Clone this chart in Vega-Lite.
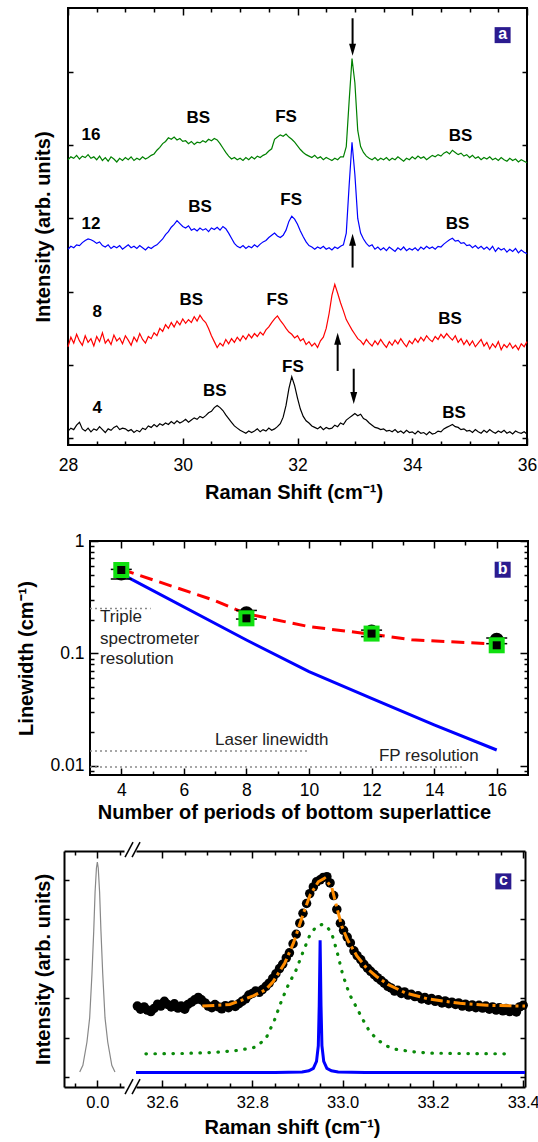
{
"$schema": "https://vega.github.io/schema/vega-lite/v6.json",
"padding": {"left": 0, "top": 6, "right": 0, "bottom": 0},
"autosize": {"type": "pad"},
"background": "white",
"datasets": {
"spectra": [
{"x":28.00,"p4":0.10,"p8":1.25,"p12":2.58,"p16":3.80},
{"x":28.05,"p4":0.14,"p8":1.38,"p12":2.62,"p16":3.84},
{"x":28.10,"p4":0.12,"p8":1.30,"p12":2.60,"p16":3.82},
{"x":28.15,"p4":0.18,"p8":1.42,"p12":2.64,"p16":3.86},
{"x":28.20,"p4":0.22,"p8":1.33,"p12":2.63,"p16":3.81},
{"x":28.25,"p4":0.13,"p8":1.27,"p12":2.67,"p16":3.85},
{"x":28.30,"p4":0.10,"p8":1.40,"p12":2.70,"p16":3.83},
{"x":28.35,"p4":0.14,"p8":1.31,"p12":2.72,"p16":3.87},
{"x":28.40,"p4":0.09,"p8":1.36,"p12":2.71,"p16":3.82},
{"x":28.45,"p4":0.13,"p8":1.26,"p12":2.69,"p16":3.84},
{"x":28.50,"p4":0.11,"p8":1.39,"p12":2.66,"p16":3.80},
{"x":28.55,"p4":0.16,"p8":1.32,"p12":2.68,"p16":3.85},
{"x":28.60,"p4":0.12,"p8":1.44,"p12":2.63,"p16":3.79},
{"x":28.65,"p4":0.08,"p8":1.30,"p12":2.61,"p16":3.83},
{"x":28.70,"p4":0.13,"p8":1.35,"p12":2.64,"p16":3.78},
{"x":28.75,"p4":0.11,"p8":1.28,"p12":2.59,"p16":3.84},
{"x":28.80,"p4":0.15,"p8":1.41,"p12":2.62,"p16":3.81},
{"x":28.85,"p4":0.17,"p8":1.33,"p12":2.60,"p16":3.77},
{"x":28.90,"p4":0.12,"p8":1.37,"p12":2.63,"p16":3.82},
{"x":28.95,"p4":0.14,"p8":1.29,"p12":2.58,"p16":3.79},
{"x":29.00,"p4":0.13,"p8":1.40,"p12":2.61,"p16":3.83},
{"x":29.05,"p4":0.10,"p8":1.34,"p12":2.64,"p16":3.80},
{"x":29.10,"p4":0.12,"p8":1.27,"p12":2.60,"p16":3.84},
{"x":29.15,"p4":0.08,"p8":1.38,"p12":2.62,"p16":3.79},
{"x":29.20,"p4":0.11,"p8":1.32,"p12":2.59,"p16":3.82},
{"x":29.25,"p4":0.09,"p8":1.43,"p12":2.63,"p16":3.80},
{"x":29.30,"p4":0.14,"p8":1.35,"p12":2.60,"p16":3.84},
{"x":29.35,"p4":0.12,"p8":1.30,"p12":2.57,"p16":3.81},
{"x":29.40,"p4":0.17,"p8":1.39,"p12":2.61,"p16":3.83},
{"x":29.45,"p4":0.15,"p8":1.36,"p12":2.59,"p16":3.86},
{"x":29.50,"p4":0.19,"p8":1.44,"p12":2.62,"p16":3.88},
{"x":29.55,"p4":0.16,"p8":1.40,"p12":2.64,"p16":3.93},
{"x":29.60,"p4":0.20,"p8":1.50,"p12":2.68,"p16":3.97},
{"x":29.65,"p4":0.18,"p8":1.46,"p12":2.72,"p16":4.02},
{"x":29.70,"p4":0.21,"p8":1.55,"p12":2.78,"p16":4.05},
{"x":29.75,"p4":0.19,"p8":1.50,"p12":2.82,"p16":4.10},
{"x":29.80,"p4":0.23,"p8":1.58,"p12":2.88,"p16":4.08},
{"x":29.85,"p4":0.20,"p8":1.52,"p12":2.92,"p16":4.11},
{"x":29.90,"p4":0.24,"p8":1.60,"p12":2.97,"p16":4.07},
{"x":29.95,"p4":0.21,"p8":1.55,"p12":2.93,"p16":4.09},
{"x":30.00,"p4":0.23,"p8":1.63,"p12":2.89,"p16":4.05},
{"x":30.05,"p4":0.26,"p8":1.57,"p12":2.87,"p16":4.06},
{"x":30.10,"p4":0.22,"p8":1.62,"p12":2.90,"p16":4.02},
{"x":30.15,"p4":0.25,"p8":1.58,"p12":2.84,"p16":4.05},
{"x":30.20,"p4":0.28,"p8":1.66,"p12":2.86,"p16":4.01},
{"x":30.25,"p4":0.26,"p8":1.60,"p12":2.83,"p16":4.04},
{"x":30.30,"p4":0.30,"p8":1.68,"p12":2.87,"p16":4.03},
{"x":30.35,"p4":0.28,"p8":1.62,"p12":2.84,"p16":4.06},
{"x":30.40,"p4":0.31,"p8":1.58,"p12":2.86,"p16":4.04},
{"x":30.45,"p4":0.35,"p8":1.50,"p12":2.82,"p16":4.08},
{"x":30.50,"p4":0.37,"p8":1.40,"p12":2.87,"p16":4.06},
{"x":30.55,"p4":0.42,"p8":1.32,"p12":2.85,"p16":4.09},
{"x":30.60,"p4":0.45,"p8":1.24,"p12":2.88,"p16":4.07},
{"x":30.65,"p4":0.42,"p8":1.30,"p12":2.84,"p16":4.02},
{"x":30.70,"p4":0.38,"p8":1.26,"p12":2.89,"p16":3.96},
{"x":30.75,"p4":0.32,"p8":1.35,"p12":2.86,"p16":3.90},
{"x":30.80,"p4":0.27,"p8":1.29,"p12":2.80,"p16":3.85},
{"x":30.85,"p4":0.22,"p8":1.36,"p12":2.73,"p16":3.81},
{"x":30.90,"p4":0.17,"p8":1.31,"p12":2.66,"p16":3.83},
{"x":30.95,"p4":0.14,"p8":1.38,"p12":2.62,"p16":3.80},
{"x":31.00,"p4":0.11,"p8":1.33,"p12":2.60,"p16":3.82},
{"x":31.05,"p4":0.09,"p8":1.40,"p12":2.63,"p16":3.79},
{"x":31.10,"p4":0.07,"p8":1.35,"p12":2.59,"p16":3.83},
{"x":31.15,"p4":0.10,"p8":1.42,"p12":2.62,"p16":3.80},
{"x":31.20,"p4":0.08,"p8":1.37,"p12":2.60,"p16":3.84},
{"x":31.25,"p4":0.10,"p8":1.43,"p12":2.64,"p16":3.81},
{"x":31.30,"p4":0.13,"p8":1.39,"p12":2.61,"p16":3.85},
{"x":31.35,"p4":0.09,"p8":1.45,"p12":2.65,"p16":3.83},
{"x":31.40,"p4":0.12,"p8":1.41,"p12":2.68,"p16":3.86},
{"x":31.45,"p4":0.10,"p8":1.48,"p12":2.70,"p16":3.88},
{"x":31.50,"p4":0.14,"p8":1.52,"p12":2.74,"p16":3.92},
{"x":31.55,"p4":0.11,"p8":1.58,"p12":2.77,"p16":3.95},
{"x":31.60,"p4":0.13,"p8":1.63,"p12":2.80,"p16":4.08},
{"x":31.65,"p4":0.16,"p8":1.67,"p12":2.76,"p16":4.11},
{"x":31.70,"p4":0.20,"p8":1.61,"p12":2.74,"p16":4.14},
{"x":31.75,"p4":0.29,"p8":1.56,"p12":2.77,"p16":4.12},
{"x":31.80,"p4":0.45,"p8":1.50,"p12":2.84,"p16":4.15},
{"x":31.85,"p4":0.68,"p8":1.45,"p12":2.96,"p16":4.11},
{"x":31.90,"p4":0.84,"p8":1.42,"p12":3.03,"p16":4.08},
{"x":31.95,"p4":0.72,"p8":1.37,"p12":2.99,"p16":4.04},
{"x":32.00,"p4":0.55,"p8":1.40,"p12":2.92,"p16":3.99},
{"x":32.05,"p4":0.40,"p8":1.33,"p12":2.83,"p16":3.94},
{"x":32.10,"p4":0.30,"p8":1.36,"p12":2.75,"p16":3.90},
{"x":32.15,"p4":0.24,"p8":1.28,"p12":2.68,"p16":3.87},
{"x":32.20,"p4":0.21,"p8":1.32,"p12":2.63,"p16":3.85},
{"x":32.25,"p4":0.17,"p8":1.26,"p12":2.61,"p16":3.83},
{"x":32.30,"p4":0.15,"p8":1.30,"p12":2.58,"p16":3.86},
{"x":32.35,"p4":0.13,"p8":1.24,"p12":2.61,"p16":3.82},
{"x":32.40,"p4":0.16,"p8":1.33,"p12":2.59,"p16":3.84},
{"x":32.45,"p4":0.12,"p8":1.38,"p12":2.62,"p16":3.80},
{"x":32.50,"p4":0.15,"p8":1.50,"p12":2.58,"p16":3.83},
{"x":32.55,"p4":0.13,"p8":1.70,"p12":2.60,"p16":3.81},
{"x":32.60,"p4":0.14,"p8":1.95,"p12":2.57,"p16":3.79},
{"x":32.65,"p4":0.18,"p8":2.10,"p12":2.61,"p16":3.82},
{"x":32.70,"p4":0.16,"p8":1.98,"p12":2.59,"p16":3.80},
{"x":32.75,"p4":0.21,"p8":1.85,"p12":2.62,"p16":3.84},
{"x":32.80,"p4":0.19,"p8":1.74,"p12":2.64,"p16":3.84},
{"x":32.85,"p4":0.25,"p8":1.62,"p12":2.80,"p16":3.98},
{"x":32.90,"p4":0.28,"p8":1.55,"p12":3.45,"p16":4.60},
{"x":32.95,"p4":0.31,"p8":1.48,"p12":4.04,"p16":5.18},
{"x":33.00,"p4":0.34,"p8":1.42,"p12":3.60,"p16":4.85},
{"x":33.05,"p4":0.31,"p8":1.36,"p12":3.00,"p16":4.20},
{"x":33.10,"p4":0.33,"p8":1.33,"p12":2.80,"p16":3.98},
{"x":33.15,"p4":0.27,"p8":1.28,"p12":2.72,"p16":3.90},
{"x":33.20,"p4":0.25,"p8":1.35,"p12":2.66,"p16":3.85},
{"x":33.25,"p4":0.21,"p8":1.30,"p12":2.62,"p16":3.82},
{"x":33.30,"p4":0.18,"p8":1.26,"p12":2.64,"p16":3.80},
{"x":33.35,"p4":0.15,"p8":1.33,"p12":2.58,"p16":3.83},
{"x":33.40,"p4":0.14,"p8":1.28,"p12":2.61,"p16":3.79},
{"x":33.45,"p4":0.12,"p8":1.35,"p12":2.57,"p16":3.82},
{"x":33.50,"p4":0.13,"p8":1.29,"p12":2.60,"p16":3.80},
{"x":33.55,"p4":0.10,"p8":1.24,"p12":2.56,"p16":3.83},
{"x":33.60,"p4":0.11,"p8":1.32,"p12":2.61,"p16":3.79},
{"x":33.65,"p4":0.09,"p8":1.27,"p12":2.58,"p16":3.82},
{"x":33.70,"p4":0.12,"p8":1.34,"p12":2.55,"p16":3.80},
{"x":33.75,"p4":0.08,"p8":1.29,"p12":2.60,"p16":3.84},
{"x":33.80,"p4":0.10,"p8":1.36,"p12":2.57,"p16":3.81},
{"x":33.85,"p4":0.07,"p8":1.30,"p12":2.61,"p16":3.78},
{"x":33.90,"p4":0.11,"p8":1.25,"p12":2.56,"p16":3.82},
{"x":33.95,"p4":0.08,"p8":1.33,"p12":2.59,"p16":3.80},
{"x":34.00,"p4":0.09,"p8":1.29,"p12":2.57,"p16":3.84},
{"x":34.05,"p4":0.06,"p8":1.36,"p12":2.60,"p16":3.81},
{"x":34.10,"p4":0.10,"p8":1.31,"p12":2.56,"p16":3.85},
{"x":34.15,"p4":0.07,"p8":1.38,"p12":2.61,"p16":3.82},
{"x":34.20,"p4":0.08,"p8":1.33,"p12":2.58,"p16":3.84},
{"x":34.25,"p4":0.05,"p8":1.40,"p12":2.62,"p16":3.80},
{"x":34.30,"p4":0.09,"p8":1.35,"p12":2.59,"p16":3.83},
{"x":34.35,"p4":0.06,"p8":1.32,"p12":2.61,"p16":3.86},
{"x":34.40,"p4":0.07,"p8":1.39,"p12":2.58,"p16":3.84},
{"x":34.45,"p4":0.10,"p8":1.35,"p12":2.62,"p16":3.87},
{"x":34.50,"p4":0.09,"p8":1.42,"p12":2.61,"p16":3.85},
{"x":34.55,"p4":0.13,"p8":1.37,"p12":2.65,"p16":3.89},
{"x":34.60,"p4":0.15,"p8":1.43,"p12":2.68,"p16":3.91},
{"x":34.65,"p4":0.17,"p8":1.38,"p12":2.71,"p16":3.88},
{"x":34.70,"p4":0.19,"p8":1.34,"p12":2.73,"p16":3.93},
{"x":34.75,"p4":0.16,"p8":1.40,"p12":2.69,"p16":3.90},
{"x":34.80,"p4":0.15,"p8":1.31,"p12":2.70,"p16":3.87},
{"x":34.85,"p4":0.12,"p8":1.36,"p12":2.66,"p16":3.89},
{"x":34.90,"p4":0.13,"p8":1.28,"p12":2.67,"p16":3.85},
{"x":34.95,"p4":0.10,"p8":1.34,"p12":2.63,"p16":3.87},
{"x":35.00,"p4":0.11,"p8":1.27,"p12":2.64,"p16":3.83},
{"x":35.05,"p4":0.08,"p8":1.33,"p12":2.60,"p16":3.86},
{"x":35.10,"p4":0.12,"p8":1.25,"p12":2.63,"p16":3.82},
{"x":35.15,"p4":0.09,"p8":1.30,"p12":2.59,"p16":3.84},
{"x":35.20,"p4":0.07,"p8":1.35,"p12":2.62,"p16":3.80},
{"x":35.25,"p4":0.11,"p8":1.26,"p12":2.58,"p16":3.83},
{"x":35.30,"p4":0.08,"p8":1.31,"p12":2.61,"p16":3.81},
{"x":35.35,"p4":0.12,"p8":1.22,"p12":2.57,"p16":3.84},
{"x":35.40,"p4":0.09,"p8":1.29,"p12":2.62,"p16":3.80},
{"x":35.45,"p4":0.07,"p8":1.24,"p12":2.55,"p16":3.82},
{"x":35.50,"p4":0.10,"p8":1.32,"p12":2.60,"p16":3.79},
{"x":35.55,"p4":0.08,"p8":1.21,"p12":2.57,"p16":3.83},
{"x":35.60,"p4":0.11,"p8":1.28,"p12":2.59,"p16":3.80},
{"x":35.65,"p4":0.07,"p8":1.24,"p12":2.54,"p16":3.78},
{"x":35.70,"p4":0.09,"p8":1.30,"p12":2.58,"p16":3.82},
{"x":35.75,"p4":0.06,"p8":1.23,"p12":2.55,"p16":3.79},
{"x":35.80,"p4":0.10,"p8":1.27,"p12":2.59,"p16":3.81},
{"x":35.85,"p4":0.08,"p8":1.21,"p12":2.53,"p16":3.77},
{"x":35.90,"p4":0.07,"p8":1.29,"p12":2.57,"p16":3.80},
{"x":35.95,"p4":0.09,"p8":1.25,"p12":2.54,"p16":3.78},
{"x":36.00,"p4":0.06,"p8":1.32,"p12":2.52,"p16":3.76}
]
},
"vconcat": [
{
"hconcat": [
{"width": 68, "height": 1, "data": {"values": []}, "mark": "point"},
{
"width": 459, "height": 437,
"view": {"stroke": "black", "strokeWidth": 2},
"resolve": {"axis": {"x": "independent", "y": "independent"}},
"layer": [
{
"data": {"name": "spectra"},
"transform": [{"fold": ["p4", "p8", "p12", "p16"], "as": ["s", "y"]}],
"mark": {"type": "line", "strokeWidth": 1.2},
"encoding": {
"x": {"field": "x", "type": "quantitative", "scale": {"domain": [28, 36], "nice": false, "zero": false},
"axis": {"orient": "bottom", "values": [28, 30, 32, 34, 36], "tickSize": -7, "labelPadding": 18, "title": "Raman Shift (cm⁻¹)", "titlePadding": 9, "titleX": 225.5}},
"y": {"field": "y", "type": "quantitative", "scale": {"domain": [-0.09, 5.87], "nice": false, "zero": false},
"axis": {"orient": "left", "values": [0, 1, 2, 3, 4, 5], "tickSize": -5, "labels": false, "title": "Intensity (arb. units)", "titlePadding": 13.5}},
"color": {"field": "s", "type": "nominal", "scale": {"domain": ["p4", "p8", "p12", "p16"], "range": ["#000000", "#ff0000", "#0000ff", "#008000"]}, "legend": null}
}
},
{
"data": {"values": [{"x": 28.40, "y": 4.14, "t": "16"}, {"x": 28.40, "y": 2.93, "t": "12"}, {"x": 28.51, "y": 1.72, "t": "8"}, {"x": 28.51, "y": 0.42, "t": "4"}]},
"mark": {"type": "text", "fontSize": 17, "fontWeight": "bold", "baseline": "middle", "color": "black"},
"encoding": {
"x": {"field": "x", "type": "quantitative", "scale": {"domain": [28, 36], "nice": false, "zero": false},
"axis": {"orient": "bottom", "values": [28.5, 29, 29.5, 30.5, 31, 31.5, 32.5, 33, 33.5, 34.5, 35, 35.5], "tickSize": -4, "labels": false, "title": null}},
"y": {"field": "y", "type": "quantitative", "scale": {"domain": [-0.09, 5.87], "nice": false, "zero": false},
"axis": {"orient": "right", "values": [0, 1, 2, 3, 4, 5], "tickSize": -5, "labels": false, "title": null}},
"text": {"field": "t"}
}
},
{
"data": {"values": [
{"x": 30.27, "y": 4.37, "t": "BS"}, {"x": 31.80, "y": 4.38, "t": "FS"}, {"x": 34.84, "y": 4.12, "t": "BS"},
{"x": 30.30, "y": 3.15, "t": "BS"}, {"x": 31.89, "y": 3.25, "t": "FS"}, {"x": 34.79, "y": 2.92, "t": "BS"},
{"x": 30.15, "y": 1.89, "t": "BS"}, {"x": 31.65, "y": 1.89, "t": "FS"}, {"x": 34.66, "y": 1.63, "t": "BS"},
{"x": 30.56, "y": 0.65, "t": "BS"}, {"x": 31.92, "y": 0.97, "t": "FS"}, {"x": 34.73, "y": 0.35, "t": "BS"}]},
"mark": {"type": "text", "fontSize": 17, "fontWeight": "bold", "baseline": "middle", "color": "black"},
"encoding": {
"x": {"field": "x", "type": "quantitative", "scale": {"domain": [28, 36], "nice": false, "zero": false},
"axis": {"orient": "top", "values": [28, 30, 32, 34, 36], "tickSize": -7, "labels": false, "title": null}},
"y": {"field": "y", "type": "quantitative", "scale": {"domain": [-0.09, 5.87], "nice": false, "zero": false}, "axis": null},
"text": {"field": "t"}
}
},
{
"data": {"values": [{"x": 32.96, "y1": 5.73, "y2": 5.30}, {"x": 32.96, "y1": 2.33, "y2": 2.71}, {"x": 32.70, "y1": 0.92, "y2": 1.36}, {"x": 32.98, "y1": 0.95, "y2": 0.55}]},
"mark": {"type": "rule", "strokeWidth": 2, "color": "black"},
"encoding": {
"x": {"field": "x", "type": "quantitative", "scale": {"domain": [28, 36], "nice": false, "zero": false},
"axis": {"orient": "top", "values": [28.5, 29, 29.5, 30.5, 31, 31.5, 32.5, 33, 33.5, 34.5, 35, 35.5], "tickSize": -4, "labels": false, "title": null}},
"y": {"field": "y1", "type": "quantitative", "scale": {"domain": [-0.09, 5.87], "nice": false, "zero": false}, "axis": null},
"y2": {"field": "y2"}
}
},
{
"data": {"values": [{"x": 32.96, "y": 5.30, "d": "down"}, {"x": 32.96, "y": 2.71, "d": "up"}, {"x": 32.70, "y": 1.36, "d": "up"}, {"x": 32.98, "y": 0.55, "d": "down"}]},
"mark": {"type": "point", "filled": true, "color": "black", "size": 144, "opacity": 1},
"encoding": {
"x": {"field": "x", "type": "quantitative", "scale": {"domain": [28, 36], "nice": false, "zero": false}, "axis": null},
"y": {"field": "y", "type": "quantitative", "scale": {"domain": [-0.09, 5.87], "nice": false, "zero": false}, "axis": null},
"shape": {"field": "d", "type": "nominal", "scale": {"domain": ["down", "up"], "range": ["M-0.58,-1L0.58,-1L0,1Z", "M-0.58,1L0.58,1L0,-1Z"]}, "legend": null}
}
},
{
"data": {"values": [{"x": 35.575, "y": 5.50, "t": "a"}]},
"mark": {"type": "point", "shape": "square", "filled": true, "color": "#2b1b8f", "size": 256, "opacity": 1},
"encoding": {
"x": {"field": "x", "type": "quantitative", "scale": {"domain": [28, 36], "nice": false, "zero": false}, "axis": null},
"y": {"field": "y", "type": "quantitative", "scale": {"domain": [-0.09, 5.87], "nice": false, "zero": false}, "axis": null}
}
},
{
"data": {"values": [{"x": 35.575, "y": 5.50, "t": "a"}]},
"mark": {"type": "text", "color": "white", "fontWeight": "bold", "fontSize": 16, "baseline": "middle", "dy": -1},
"encoding": {
"x": {"field": "x", "type": "quantitative", "scale": {"domain": [28, 36], "nice": false, "zero": false}, "axis": null},
"y": {"field": "y", "type": "quantitative", "scale": {"domain": [-0.09, 5.87], "nice": false, "zero": false}, "axis": null},
"text": {"field": "t"}
}
}
]
}
],
"spacing": 0,
"bounds": "flush"
},
{
"vconcat": [
{
"hconcat": [
{"width": 90, "height": 1, "data": {"values": []}, "mark": "point"},
{
"width": 438, "height": 234,
"view": {"stroke": "black", "strokeWidth": 2},
"resolve": {"axis": {"x": "independent", "y": "independent"}},
"layer": [
{
"data": {"values": [{"n": 4, "w": 0.51}, {"n": 8, "w": 0.1315}, {"n": 10, "w": 0.0687}, {"n": 12, "w": 0.0398}, {"n": 14, "w": 0.0231}, {"n": 16, "w": 0.0138}]},
"mark": {"type": "line", "strokeWidth": 3, "color": "#0000ff"},
"encoding": {
"x": {"field": "n", "type": "quantitative", "scale": {"domain": [3, 17], "nice": false, "zero": false},
"axis": {"orient": "bottom", "values": [4, 6, 8, 10, 12, 14, 16], "tickSize": -7, "labelPadding": 13, "title": "Number of periods of bottom superlattice", "titlePadding": 4, "titleX": 204}},
"y": {"field": "w", "type": "quantitative", "scale": {"type": "log", "domain": [0.00827, 1], "nice": false},
"axis": {"orient": "left", "values": [0.01, 0.1, 1], "tickSize": -8, "labelPadding": 14, "labelExpr": "datum.value > 0.5 ? '1' : datum.value > 0.05 ? '0.1' : '0.01'", "title": "Linewidth (cm⁻¹)", "titlePadding": 13.5}}
}
},
{
"data": {"values": [{"n": 4, "w": 0.56}, {"n": 6.92, "w": 0.30}, {"n": 8, "w": 0.225}, {"n": 10, "w": 0.173}, {"n": 12, "w": 0.148}, {"n": 13.28, "w": 0.132}, {"n": 16, "w": 0.121}]},
"mark": {"type": "line", "strokeWidth": 3, "color": "#ff0000", "strokeDash": [13, 7]},
"encoding": {
"x": {"field": "n", "type": "quantitative", "scale": {"domain": [3, 17], "nice": false, "zero": false},
"axis": {"orient": "bottom", "values": [5, 7, 9, 11, 13, 15], "tickSize": -4, "labels": false, "title": null}},
"y": {"field": "w", "type": "quantitative", "scale": {"type": "log", "domain": [0.00827, 1], "nice": false},
"axis": {"orient": "right", "values": [0.01, 0.1, 1], "tickSize": -8, "labels": false, "title": null}}
}
},
{
"data": {"values": [{"n": 3, "n2": 4.94, "w": 0.251}, {"n": 3, "n2": 10.01, "w": 0.01355}, {"n": 3, "n2": 14.97, "w": 0.00975}]},
"mark": {"type": "rule", "strokeWidth": 1.5, "color": "#8a8a8a", "strokeDash": [2, 3]},
"encoding": {
"x": {"field": "n", "type": "quantitative", "scale": {"domain": [3, 17], "nice": false, "zero": false},
"axis": {"orient": "top", "values": [4, 6, 8, 10, 12, 14, 16], "tickSize": -7, "labels": false, "title": null}},
"x2": {"field": "n2"},
"y": {"field": "w", "type": "quantitative", "scale": {"type": "log", "domain": [0.00827, 1], "nice": false},
"axis": {"orient": "left", "values": [0.009, 0.02, 0.03, 0.04, 0.05, 0.06, 0.07, 0.08, 0.09, 0.2, 0.3, 0.4, 0.5, 0.6, 0.7, 0.8, 0.9], "tickSize": -4, "labels": false, "title": null}}
}
},
{
"data": {"values": [{"n": 3.32, "w": 0.212, "t": "Triple"}, {"n": 3.32, "w": 0.135, "t": "spectrometer"}, {"n": 3.32, "w": 0.0897, "t": "resolution"}]},
"mark": {"type": "text", "fontSize": 17, "align": "left", "baseline": "middle", "color": "#222222"},
"encoding": {
"x": {"field": "n", "type": "quantitative", "scale": {"domain": [3, 17], "nice": false, "zero": false},
"axis": {"orient": "top", "values": [5, 7, 9, 11, 13, 15], "tickSize": -4, "labels": false, "title": null}},
"y": {"field": "w", "type": "quantitative", "scale": {"type": "log", "domain": [0.00827, 1], "nice": false},
"axis": {"orient": "right", "values": [0.009, 0.02, 0.03, 0.04, 0.05, 0.06, 0.07, 0.08, 0.09, 0.2, 0.3, 0.4, 0.5, 0.6, 0.7, 0.8, 0.9], "tickSize": -4, "labels": false, "title": null}},
"text": {"field": "t"}
}
},
{
"data": {"values": [{"n": 8.81, "w": 0.0171, "t": "Laser linewidth"}, {"n": 13.83, "w": 0.0123, "t": "FP resolution"}]},
"mark": {"type": "text", "fontSize": 17, "align": "center", "baseline": "middle", "color": "#222222"},
"encoding": {
"x": {"field": "n", "type": "quantitative", "scale": {"domain": [3, 17], "nice": false, "zero": false}, "axis": null},
"y": {"field": "w", "type": "quantitative", "scale": {"type": "log", "domain": [0.00827, 1], "nice": false}, "axis": null},
"text": {"field": "t"}
}
},
{
"data": {"values": [{"n": 4, "lo": 0.459, "hi": 0.559}, {"n": 8, "lo": 0.202, "hi": 0.241}, {"n": 12, "lo": 0.141, "hi": 0.161}, {"n": 16, "lo": 0.122, "hi": 0.137}]},
"mark": {"type": "rule", "strokeWidth": 1.5, "color": "black"},
"encoding": {
"x": {"field": "n", "type": "quantitative", "scale": {"domain": [3, 17], "nice": false, "zero": false}, "axis": null},
"y": {"field": "lo", "type": "quantitative", "scale": {"type": "log", "domain": [0.00827, 1], "nice": false}, "axis": null},
"y2": {"field": "hi"}
}
},
{
"data": {"values": [{"n": 4, "w": 0.459}, {"n": 4, "w": 0.559}, {"n": 8, "w": 0.202}, {"n": 8, "w": 0.241}, {"n": 12, "w": 0.141}, {"n": 12, "w": 0.161}, {"n": 16, "w": 0.122}, {"n": 16, "w": 0.137}]},
"mark": {"type": "tick", "orient": "horizontal", "size": 21, "thickness": 1.5, "color": "black", "opacity": 1},
"encoding": {
"x": {"field": "n", "type": "quantitative", "scale": {"domain": [3, 17], "nice": false, "zero": false}, "axis": null},
"y": {"field": "w", "type": "quantitative", "scale": {"type": "log", "domain": [0.00827, 1], "nice": false}, "axis": null}
}
},
{
"data": {"values": [{"n": 4, "w": 0.515}, {"n": 8, "w": 0.227}, {"n": 12, "w": 0.156}, {"n": 16, "w": 0.132}]},
"mark": {"type": "point", "shape": "circle", "filled": true, "color": "black", "size": 200, "opacity": 1},
"encoding": {
"x": {"field": "n", "type": "quantitative", "scale": {"domain": [3, 17], "nice": false, "zero": false}, "axis": null},
"y": {"field": "w", "type": "quantitative", "scale": {"type": "log", "domain": [0.00827, 1], "nice": false}, "axis": null}
}
},
{
"data": {"values": [{"n": 4, "w": 0.552}, {"n": 8, "w": 0.205}, {"n": 12, "w": 0.150}, {"n": 16, "w": 0.118}]},
"mark": {"type": "point", "shape": "square", "filled": true, "color": "#10e010", "size": 256, "opacity": 1},
"encoding": {
"x": {"field": "n", "type": "quantitative", "scale": {"domain": [3, 17], "nice": false, "zero": false}, "axis": null},
"y": {"field": "w", "type": "quantitative", "scale": {"type": "log", "domain": [0.00827, 1], "nice": false}, "axis": null}
}
},
{
"data": {"values": [{"n": 4, "w": 0.552}, {"n": 8, "w": 0.205}, {"n": 12, "w": 0.150}, {"n": 16, "w": 0.118}]},
"mark": {"type": "point", "shape": "square", "filled": true, "color": "black", "size": 64, "opacity": 1},
"encoding": {
"x": {"field": "n", "type": "quantitative", "scale": {"domain": [3, 17], "nice": false, "zero": false}, "axis": null},
"y": {"field": "w", "type": "quantitative", "scale": {"type": "log", "domain": [0.00827, 1], "nice": false}, "axis": null}
}
},
{
"data": {"values": [{"n": 16.19, "w": 0.555, "t": "b"}]},
"mark": {"type": "point", "shape": "square", "filled": true, "color": "#2b1b8f", "size": 256, "opacity": 1},
"encoding": {
"x": {"field": "n", "type": "quantitative", "scale": {"domain": [3, 17], "nice": false, "zero": false}, "axis": null},
"y": {"field": "w", "type": "quantitative", "scale": {"type": "log", "domain": [0.00827, 1], "nice": false}, "axis": null}
}
},
{
"data": {"values": [{"n": 16.19, "w": 0.555, "t": "b"}]},
"mark": {"type": "text", "color": "white", "fontWeight": "bold", "fontSize": 16, "baseline": "middle", "dy": -1},
"encoding": {
"x": {"field": "n", "type": "quantitative", "scale": {"domain": [3, 17], "nice": false, "zero": false}, "axis": null},
"y": {"field": "w", "type": "quantitative", "scale": {"type": "log", "domain": [0.00827, 1], "nice": false}, "axis": null},
"text": {"field": "t"}
}
}
]
}
],
"spacing": 0,
"bounds": "flush"
},
{
"hconcat": [
{"width": 52, "height": 1, "data": {"values": []}, "mark": "point"},
{
"width": 60, "height": 236,
"view": {"stroke": null},
"resolve": {"axis": {"x": "independent", "y": "independent"}},
"layer": [
{
"data": {"values": [{"x": -0.039, "y": 0.13}, {"x": -0.032, "y": 0.3}, {"x": -0.023, "y": 0.89}, {"x": -0.017, "y": 1.5}, {"x": -0.012, "y": 2.6}, {"x": -0.008, "y": 3.7}, {"x": -0.005, "y": 4.69}, {"x": -0.002, "y": 5.3}, {"x": 0, "y": 5.45}, {"x": 0.002, "y": 5.3}, {"x": 0.005, "y": 4.69}, {"x": 0.008, "y": 3.7}, {"x": 0.012, "y": 2.6}, {"x": 0.017, "y": 1.5}, {"x": 0.023, "y": 0.89}, {"x": 0.032, "y": 0.3}, {"x": 0.039, "y": 0.13}]},
"mark": {"type": "line", "strokeWidth": 1.2, "color": "#888888"},
"encoding": {
"x": {"field": "x", "type": "quantitative", "scale": {"domain": [-0.0738, 0.059], "nice": false, "zero": false},
"axis": {"orient": "bottom", "values": [0], "format": ".1f", "tickSize": -7, "labelPadding": 14, "labelFontSize": 16.5, "domain": true, "title": null}},
"y": {"field": "y", "type": "quantitative", "scale": {"domain": [-0.25, 5.73], "nice": false, "zero": false},
"axis": {"orient": "left", "values": [0, 1, 2, 3, 4, 5], "tickSize": -5, "labels": false, "domain": true, "title": "Intensity (arb. units)", "titlePadding": 9.5}}
}
},
{
"data": {"values": [{"x": 0.0613, "x2": 0.0790, "y": 5.575, "y2": 5.955}, {"x": 0.0768, "x2": 0.0945, "y": 5.575, "y2": 5.955}]},
"mark": {"type": "rule", "strokeWidth": 1.5, "color": "black"},
"encoding": {
"x": {"field": "x", "type": "quantitative", "scale": {"domain": [-0.0738, 0.059], "nice": false, "zero": false},
"axis": {"orient": "top", "values": [0], "tickSize": -7, "labels": false, "domain": true, "title": null}},
"x2": {"field": "x2"},
"y": {"field": "y", "type": "quantitative", "scale": {"domain": [-0.25, 5.73], "nice": false, "zero": false}, "axis": null},
"y2": {"field": "y2"}
}
},
{
"data": {"values": [{"x": 0.0613, "x2": 0.0790, "y": -0.43, "y2": -0.05}, {"x": 0.0768, "x2": 0.0945, "y": -0.43, "y2": -0.05}]},
"mark": {"type": "rule", "strokeWidth": 1.5, "color": "black"},
"encoding": {
"x": {"field": "x", "type": "quantitative", "scale": {"domain": [-0.0738, 0.059], "nice": false, "zero": false},
"axis": {"orient": "bottom", "values": [-0.05, 0.05], "tickSize": -4, "labels": false, "title": null}},
"x2": {"field": "x2"},
"y": {"field": "y", "type": "quantitative", "scale": {"domain": [-0.25, 5.73], "nice": false, "zero": false}, "axis": null},
"y2": {"field": "y2"}
}
},
{
"data": {"values": [{"x": -0.05, "y": 5.73}, {"x": 0.05, "y": 5.73}]},
"mark": {"type": "point", "opacity": 0},
"encoding": {
"x": {"field": "x", "type": "quantitative", "scale": {"domain": [-0.0738, 0.059], "nice": false, "zero": false},
"axis": {"orient": "top", "values": [-0.05, 0.05], "tickSize": -4, "labels": false, "title": null}},
"y": {"field": "y", "type": "quantitative", "scale": {"domain": [-0.25, 5.73], "nice": false, "zero": false}, "axis": null}
}
}
]
},
{
"width": 389, "height": 236,
"view": {"stroke": null},
"resolve": {"axis": {"x": "independent", "y": "independent"}},
"layer": [
{
"data": {"values": [
{"x":32.545,"y":1.80},{"x":32.552,"y":1.72},{"x":32.560,"y":1.78},{"x":32.567,"y":1.70},{"x":32.575,"y":1.66},{"x":32.582,"y":1.74},{"x":32.590,"y":1.85},{"x":32.597,"y":1.80},{"x":32.605,"y":1.92},{"x":32.612,"y":1.84},
{"x":32.620,"y":1.78},{"x":32.627,"y":1.86},{"x":32.635,"y":1.75},{"x":32.642,"y":1.80},{"x":32.650,"y":1.72},{"x":32.657,"y":1.84},{"x":32.665,"y":1.90},{"x":32.672,"y":1.96},{"x":32.680,"y":2.02},{"x":32.687,"y":1.96},
{"x":32.695,"y":1.88},{"x":32.702,"y":1.80},{"x":32.710,"y":1.76},{"x":32.717,"y":1.84},{"x":32.725,"y":1.78},{"x":32.732,"y":1.73},{"x":32.740,"y":1.81},{"x":32.747,"y":1.76},{"x":32.755,"y":1.83},{"x":32.762,"y":1.79},
{"x":32.770,"y":1.86},{"x":32.777,"y":1.92},{"x":32.785,"y":1.98},{"x":32.792,"y":2.08},{"x":32.800,"y":2.12},{"x":32.807,"y":2.18},{"x":32.815,"y":2.15},{"x":32.822,"y":2.22},{"x":32.830,"y":2.30},{"x":32.837,"y":2.38},
{"x":32.845,"y":2.50},{"x":32.852,"y":2.62},{"x":32.860,"y":2.75},{"x":32.867,"y":2.86},{"x":32.875,"y":3.02},{"x":32.882,"y":3.15},{"x":32.890,"y":3.38},{"x":32.897,"y":3.62},{"x":32.905,"y":3.90},{"x":32.912,"y":4.15},
{"x":32.920,"y":4.40},{"x":32.927,"y":4.65},{"x":32.935,"y":4.82},{"x":32.942,"y":4.95},{"x":32.950,"y":5.00},{"x":32.957,"y":5.06},{"x":32.965,"y":5.08},{"x":32.972,"y":4.92},{"x":32.980,"y":4.60},{"x":32.987,"y":4.25},
{"x":32.995,"y":3.90},{"x":33.002,"y":3.72},{"x":33.010,"y":3.55},{"x":33.017,"y":3.40},{"x":33.025,"y":3.20},{"x":33.032,"y":3.08},{"x":33.040,"y":2.98},{"x":33.047,"y":2.86},{"x":33.055,"y":2.76},{"x":33.062,"y":2.68},
{"x":33.070,"y":2.60},{"x":33.077,"y":2.52},{"x":33.085,"y":2.45},{"x":33.092,"y":2.38},{"x":33.100,"y":2.30},{"x":33.107,"y":2.26},{"x":33.115,"y":2.18},{"x":33.122,"y":2.20},{"x":33.130,"y":2.12},{"x":33.137,"y":2.16},
{"x":33.145,"y":2.08},{"x":33.152,"y":2.10},{"x":33.160,"y":2.04},{"x":33.167,"y":2.06},{"x":33.175,"y":1.98},{"x":33.182,"y":2.02},{"x":33.190,"y":1.95},{"x":33.197,"y":1.99},{"x":33.205,"y":1.92},{"x":33.212,"y":1.96},
{"x":33.220,"y":1.88},{"x":33.227,"y":1.93},{"x":33.235,"y":1.86},{"x":33.242,"y":1.90},{"x":33.250,"y":1.84},{"x":33.257,"y":1.88},{"x":33.265,"y":1.80},{"x":33.272,"y":1.85},{"x":33.280,"y":1.78},{"x":33.287,"y":1.83},
{"x":33.295,"y":1.76},{"x":33.302,"y":1.82},{"x":33.310,"y":1.75},{"x":33.317,"y":1.80},{"x":33.325,"y":1.72},{"x":33.332,"y":1.78},{"x":33.340,"y":1.70},{"x":33.347,"y":1.76},{"x":33.355,"y":1.68},{"x":33.362,"y":1.74},
{"x":33.370,"y":1.66},{"x":33.377,"y":1.72},{"x":33.385,"y":1.65},{"x":33.392,"y":1.78},{"x":33.400,"y":1.82}
]},
"mark": {"type": "point", "shape": "circle", "filled": true, "color": "black", "size": 90, "opacity": 1},
"encoding": {
"x": {"field": "x", "type": "quantitative", "scale": {"domain": [32.542, 33.404], "nice": false, "zero": false},
"axis": {"orient": "bottom", "values": [32.6, 32.8, 33.0, 33.2, 33.4], "format": ".1f", "tickSize": -7, "labelPadding": 14, "labelFontSize": 16.5, "domain": true, "title": "Raman shift (cm⁻¹)", "titlePadding": 7, "titleX": 156}},
"y": {"field": "y", "type": "quantitative", "scale": {"domain": [-0.25, 5.73], "nice": false, "zero": false},
"axis": {"orient": "right", "values": [0, 1, 2, 3, 4, 5], "tickSize": -5, "labels": false, "domain": true, "title": null}}
}
},
{
"data": {"values": [{"x":32.689,"y":1.80},{"x":32.75,"y":1.84},{"x":32.8,"y":2.05},{"x":32.83,"y":2.22},{"x":32.846,"y":2.42},{"x":32.872,"y":2.9},{"x":32.891,"y":3.4},{"x":32.913,"y":4.15},{"x":32.928,"y":4.62},{"x":32.946,"y":4.95},{"x":32.96,"y":5.04},{"x":32.976,"y":4.8},{"x":32.987,"y":4.3},{"x":32.998,"y":3.82},{"x":33.012,"y":3.45},{"x":33.031,"y":3.08},{"x":33.053,"y":2.76},{"x":33.075,"y":2.55},{"x":33.1,"y":2.35},{"x":33.14,"y":2.13},{"x":33.19,"y":1.98},{"x":33.26,"y":1.87},{"x":33.32,"y":1.82},{"x":33.404,"y":1.80}]},
"mark": {"type": "line", "strokeWidth": 3, "color": "#ff8c00", "strokeDash": [12, 4, 3, 4]},
"encoding": {
"x": {"field": "x", "type": "quantitative", "scale": {"domain": [32.542, 33.404], "nice": false, "zero": false},
"axis": {"orient": "bottom", "values": [32.65, 32.7, 32.75, 32.85, 32.9, 32.95, 33.05, 33.1, 33.15, 33.25, 33.3, 33.35], "tickSize": -4, "labels": false, "title": null}},
"y": {"field": "y", "type": "quantitative", "scale": {"domain": [-0.25, 5.73], "nice": false, "zero": false}, "axis": null}
}
},
{
"data": {"values": [{"x":32.564,"y":0.59},{"x":32.65,"y":0.60},{"x":32.72,"y":0.63},{"x":32.77,"y":0.68},{"x":32.807,"y":0.76},{"x":32.83,"y":0.98},{"x":32.849,"y":1.45},{"x":32.865,"y":1.95},{"x":32.88,"y":2.35},{"x":32.897,"y":2.72},{"x":32.913,"y":3.2},{"x":32.928,"y":3.62},{"x":32.942,"y":3.82},{"x":32.955,"y":3.87},{"x":32.965,"y":3.82},{"x":32.976,"y":3.63},{"x":32.987,"y":3.2},{"x":33.0,"y":2.6},{"x":33.015,"y":2.1},{"x":33.03,"y":1.78},{"x":33.045,"y":1.45},{"x":33.06,"y":1.15},{"x":33.077,"y":0.95},{"x":33.095,"y":0.8},{"x":33.115,"y":0.71},{"x":33.15,"y":0.65},{"x":33.19,"y":0.61},{"x":33.25,"y":0.60},{"x":33.362,"y":0.59}]},
"mark": {"type": "line", "strokeWidth": 3.2, "color": "#0a8a0a", "strokeDash": [0.5, 8.5], "strokeCap": "round"},
"encoding": {
"x": {"field": "x", "type": "quantitative", "scale": {"domain": [32.542, 33.404], "nice": false, "zero": false},
"axis": {"orient": "top", "values": [32.6, 32.8, 33.0, 33.2, 33.4], "tickSize": -7, "labels": false, "domain": true, "title": null}},
"y": {"field": "y", "type": "quantitative", "scale": {"domain": [-0.25, 5.73], "nice": false, "zero": false}, "axis": null}
}
},
{
"data": {"values": [{"x":32.542,"y":0.12},{"x":32.85,"y":0.12},{"x":32.91,"y":0.13},{"x":32.925,"y":0.16},{"x":32.935,"y":0.22},{"x":32.942,"y":0.4},{"x":32.946,"y":0.8},{"x":32.948,"y":1.8},{"x":32.95,"y":3.47},{"x":32.952,"y":1.8},{"x":32.954,"y":0.8},{"x":32.958,"y":0.4},{"x":32.965,"y":0.22},{"x":32.975,"y":0.16},{"x":32.99,"y":0.13},{"x":33.05,"y":0.12},{"x":33.404,"y":0.12}]},
"mark": {"type": "line", "strokeWidth": 3, "color": "#0000ff"},
"encoding": {
"x": {"field": "x", "type": "quantitative", "scale": {"domain": [32.542, 33.404], "nice": false, "zero": false},
"axis": {"orient": "top", "values": [32.65, 32.7, 32.75, 32.85, 32.9, 32.95, 33.05, 33.1, 33.15, 33.25, 33.3, 33.35], "tickSize": -4, "labels": false, "title": null}},
"y": {"field": "y", "type": "quantitative", "scale": {"domain": [-0.25, 5.73], "nice": false, "zero": false}, "axis": null}
}
},
{
"data": {"values": [{"x": 33.356, "y": 4.96, "t": "c"}]},
"mark": {"type": "point", "shape": "square", "filled": true, "color": "#2b1b8f", "size": 256, "opacity": 1},
"encoding": {
"x": {"field": "x", "type": "quantitative", "scale": {"domain": [32.542, 33.404], "nice": false, "zero": false}, "axis": null},
"y": {"field": "y", "type": "quantitative", "scale": {"domain": [-0.25, 5.73], "nice": false, "zero": false}, "axis": null}
}
},
{
"data": {"values": [{"x": 33.356, "y": 4.96, "t": "c"}]},
"mark": {"type": "text", "color": "white", "fontWeight": "bold", "fontSize": 16, "baseline": "middle", "dy": -1},
"encoding": {
"x": {"field": "x", "type": "quantitative", "scale": {"domain": [32.542, 33.404], "nice": false, "zero": false}, "axis": null},
"y": {"field": "y", "type": "quantitative", "scale": {"domain": [-0.25, 5.73], "nice": false, "zero": false}, "axis": null},
"text": {"field": "t"}
}
}
]
}
],
"spacing": 12,
"bounds": "flush"
}
],
"spacing": 17
}
],
"spacing": 27,
"config": {
"font": "Liberation Sans",
"view": {"stroke": null},
"axis": {"domain": false, "grid": false, "labelFlush": false, "labelOverlap": false, "tickColor": "black", "tickWidth": 1.5, "labelFont": "Liberation Sans", "titleFont": "Liberation Sans", "labelFontSize": 17.5, "titleFontSize": 20, "titleFontWeight": "bold", "labelColor": "black", "titleColor": "black", "domainColor": "black", "domainWidth": 2},
"text": {"font": "Liberation Sans"}
}
}
